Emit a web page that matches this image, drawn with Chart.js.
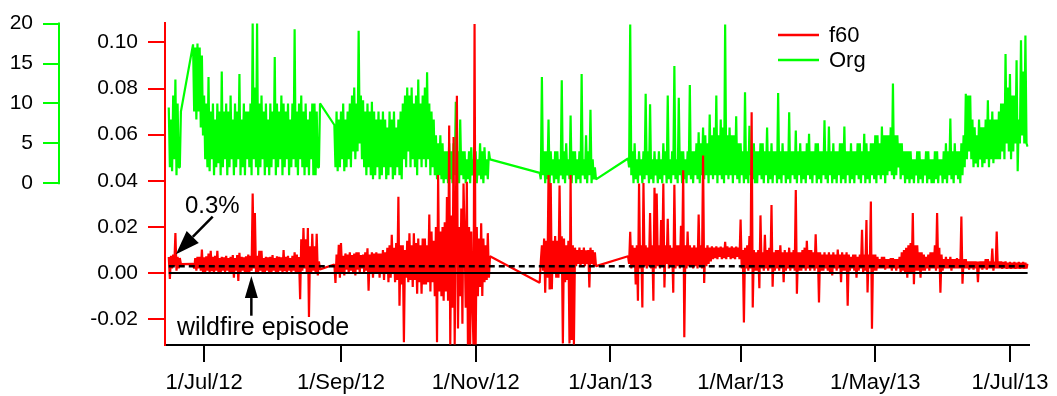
<!DOCTYPE html>
<html>
<head>
<meta charset="utf-8">
<title>f60 / Org</title>
<script src="https://cdn.jsdelivr.net/npm/chart.js@4.4.1/dist/chart.umd.min.js"></script>
<style>
  html, body { margin:0; padding:0; background:#fff; }
  #wrap { width:1057px; height:396px; }
</style>
</head>
<body>
<div id="wrap"><canvas id="chart" width="1057" height="396"></canvas></div>
<script>
// Two readings per day: *00 at midnight, *12 at noon.
// Days counted from 1 Jul 2012, first entry of every row list is day -20.
// null = instrument offline (the trace is bridged across).
const firstDay = -20;

const org00 = [
  null, null, null, null, 9.5, 8, 11, 13, 10, 2,          // -20
  null, null, null, null, null, 17.4, 17, 17.5, 17, 16,   // -10
  11, 10, 13.3, 9, 10, 8, 10, 9, 14, 9,                   // 0
  10, 9, 11, 8, 10, 9, 13.7, 8, 10, 9,                    // 10
  9, 10, 20, 12, 20, 10, 11, 9, 10, 8,                    // 20
  10, 9, 15.8, 10, 9, 11, 10, 9, 10, 8,                   // 30
  10, 19.3, 9, 10, 11, 9, 10, 8, 9, 10,                   // 40
  10, 9, 2, null, null, null, null, null, null, 7.3,      // 50
  9, 8, 9, 10, 8, 9, 10, 11, 12, 10,                      // 60
  19.1, 11, 10.4, 9, 10, 9, 10.2, 9, 8, 9,                // 70
  8, 9, 8, 7, 9, 8, 9, 7, 8, 9,                           // 80
  10, 11, 12, 11, 12, 10, 11, 13, 10, 11,                 // 90
  12, 13.9, 10, 9, 8, 6, 5, 6, 5, 4,                      // 100
  4, 5, 4, 5, 10.2, 4, 8, 4, 4, 3,                        // 110
  4, 4.5, 3, 4, 3, 5, 4, 4.5, 3, 4,                       // 120
  null, null, null, null, null, null, null, null, null, null, // 130
  null, null, null, null, null, null, null, null, null, null, // 140
  null, null, 1.3, 13.3, 4, 4, 8, 4, 3, 4,                // 150
  4, 3, 12.9, 4, 5, 3, 8.5, 4, 4, 3,                      // 160
  4, 13.7, 3, 6, 4, 9.2, 3, 2, null, null,                // 170
  null, null, null, null, null, null, null, null, null, null, // 180
  null, null, 3.1, 19.9, 4, 5, 3, 4, 3, 4,                // 190
  11.2, 4, 9.9, 3, 4, 3, 4, 3, 5, 4,                      // 200
  11, 3, 4, 14.7, 3, 10.7, 4, 4, 3, 4,                    // 210
  12.3, 4, 4, 5, 6.4, 5, 7, 6, 5, 8.6,                    // 220
  6, 7, 11, 6, 8, 7, 19.9, 6, 7, 6,                       // 230
  6, 8.4, 5, 5, 4, 11.4, 4, 7.2, 4, 5,                    // 240
  4, 4, 5, 5, 4, 7, 4, 5, 4, 4,                           // 250
  11.3, 4, 5, 4, 4, 8.9, 4, 4, 6.6, 4,                    // 260
  5, 4, 4, 5, 6.2, 4, 4, 5, 5, 4,                         // 270
  4, 7.9, 4, 7.1, 4, 5, 4, 4, 5, 5,                       // 280
  7.1, 4, 4, 5, 4, 4, 5, 5, 4, 6.2,                       // 290
  5, 4, 5, 5, 6, 6, 5, 7.1, 6, 6,                         // 300
  6, 7, 12.5, 6, 6, 5, 5, 4, 4, 4,                        // 310
  4, 3, 3, 4, 4, 3, 3, 4, 4, 3,                           // 320
  3, 4, 4, 3, 3, 4, 5, 4, 8.1, 4,                         // 330
  5, 4, 4, 5, 6, 11.2, 11, 11, 8, 7,                      // 340
  6, 8, 7, 7, 8, 10.4, 8, 9, 8, 8,                        // 350
  9, 10, 10, 16.2, 12, 13.7, 11, 11, 15.4, 8,             // 360
  17.9, 14, 18.5, 4.6                                     // 370
];

const org12 = [
  null, null, null, null, 2, 1.5, 3, 1, 2, 9,             // -20
  null, null, null, null, null, 9, 8, 9, 7, 6,            // -10
  3, 2, 1.5, 3, 1, 2, 2.5, 1, 2, 3,                       // 0
  1, 2, 3, 1, 2, 3, 1, 2, 1, 3,                           // 10
  2, 1, 3, 2, 1, 2, 3, 1, 2, 1,                           // 20
  2, 3, 1, 2, 3, 1, 2, 3, 1, 2,                           // 30
  3, 2, 1, 3, 2, 1, 2, 1, 3, 1,                           // 40
  1, 2, 10, null, null, null, null, null, null, 2,        // 50
  1.5, 2, 3, 1.5, 2, 3, 2, 4, 3, 4,                       // 60
  5, 3, 2, 1, 2, 1, 0.5, 1, 2, 0.5,                       // 70
  1, 2, 0.5, 1, 2, 0.5, 1, 2, 1, 0.5,                     // 80
  3, 2, 4, 2, 3, 2, 1, 3, 2, 3,                           // 90
  2, 3, 1, 2, 1, 0.5, 1, 0.5, 0, 0.5,                     // 100
  0, 0.5, 0, 1, 0.5, 0, 1, 0.5, 0, 0.5,                   // 110
  0, 1, 0.5, 0, 1, 0.5, 0, 1, 0.5, 3,                     // 120
  null, null, null, null, null, null, null, null, null, null, // 130
  null, null, null, null, null, null, null, null, null, null, // 140
  null, null, 0.5, 1, 0, 0.5, 0, 1, 0, 0.5,               // 150
  0, 1, 0.5, 0, 1, 0.5, 0, 1, 0, 0.5,                     // 160
  0, 1, 0.5, 0, 1, 0, 0.5, 0.5, null, null,               // 170
  null, null, null, null, null, null, null, null, null, null, // 180
  null, null, 2, 1, 0, 0.5, 0, 1, 0, 0.5,                 // 190
  1, 0, 0.5, 0, 1, 0, 0.5, 0, 1, 0,                       // 200
  0.5, 0, 1, 0.5, 0, 1, 0, 0.5, 0, 1,                     // 210
  0.5, 0, 1, 0.5, 0, 1, 0.5, 1, 0, 1,                     // 220
  0.5, 1, 0, 1, 0.5, 0, 1, 0.5, 1, 0,                     // 230
  1, 0.5, 0, 1, 0, 0.5, 0, 1, 0.5, 0,                     // 240
  0, 1, 0.5, 0, 1, 0, 0.5, 0, 1, 0,                       // 250
  0.5, 0, 1, 0, 0.5, 0, 1, 0.5, 0, 1,                     // 260
  0, 0.5, 0, 1, 0.5, 0, 1, 0, 0.5, 0,                     // 270
  1, 0.5, 0, 1, 0, 0.5, 0, 1, 0, 0.5,                     // 280
  0, 1, 0, 0.5, 0, 1, 0.5, 0, 1, 0,                       // 290
  0.5, 0, 1, 0.5, 0, 1, 0.5, 1, 0, 1,                     // 300
  1.5, 1, 0.5, 1, 2, 0.5, 1, 0, 0.5, 0,                   // 310
  0.5, 0, 1, 0, 0.5, 0, 1, 0, 0.5, 0,                     // 320
  0, 0.5, 0, 1, 0, 0.5, 0, 1, 0.5, 0,                     // 330
  1, 0.5, 0, 1, 2, 3, 4, 3, 2, 2.5,                       // 340
  2, 3, 2, 2.5, 3, 2, 3, 2.5, 3, 3,                       // 350
  3, 4, 3, 5, 4, 3, 4, 5, 1.5, 5,                         // 360
  6, 5, 5                                                 // 370
];

const f6000 = [
  null, null, null, null, 0.007, 0.0075, 0.008, 0.0173, 0.007, 0.0065,          // -20
  null, null, null, null, null, 0.004, 0.0065, 0.007, 0.007, 0.0102,            // -10
  0.0068, 0.0072, 0.0085, 0.0096, 0.007, 0.0075, 0.0096, 0.0065, 0.007, 0.0068,  // 0
  0.0075, 0.0065, 0.007, 0.0078, 0.0065, 0.0078, 0.0088, 0.007, 0.0068, 0.0072,  // 10
  0.008, 0.0075, 0.0345, 0.026, 0.0075, 0.0096, 0.0096, 0.0065, 0.007, 0.0068,   // 20
  0.007, 0.0078, 0.0065, 0.0072, 0.007, 0.0068, 0.01, 0.007, 0.0075, 0.0065,     // 30
  0.0075, 0.009, 0.008, 0.007, 0.0146, 0.0195, 0.0146, 0.0195, 0.0116, 0.017,    // 40
  0.0116, 0.017, 0.005, null, null, null, null, null, null, 0.0037,             // 50
  0.008, 0.0123, 0.013, 0.0075, 0.0085, 0.008, 0.009, 0.0078, 0.0085, 0.009,     // 60
  0.009, 0.0078, 0.008, 0.009, 0.0107, 0.008, 0.009, 0.0085, 0.009, 0.0085,      // 70
  0.0085, 0.01, 0.009, 0.011, 0.012, 0.0166, 0.011, 0.013, 0.0331, 0.012,        // 80
  0.012, 0.01, 0.014, 0.0173, 0.012, 0.0173, 0.013, 0.015, 0.012, 0.015,         // 90
  0.015, 0.012, 0.0254, 0.018, 0.014, 0.02, 0.0425, 0.018, 0.02, 0.022,          // 100
  0.033, 0.064, 0.025, 0.059, 0.02, -0.024, -0.01, -0.022, 0.015, 0.0396,        // 110
  0.02, 0.018, -0.031, -0.031, -0.01, -0.006, -0.0099, -0.004, -0.003, -0.002,   // 120
  null, null, null, null, null, null, null, null, null, null,                   // 130
  null, null, null, null, null, null, null, null, null, null,                   // 140
  null, null, -0.0042, 0.012, 0.015, 0.014, 0.0425, 0.039, 0.014, 0.016,        // 150
  0.014, 0.038, 0.016, 0.015, 0.012, 0.014, 0.0425, 0.012, 0.011, 0.01,          // 160
  0.011, 0.01, 0.011, 0.0099, 0.01, 0.011, 0.01, 0.009, null, null,             // 170
  null, null, null, null, null, null, null, null, null, null,                   // 180
  null, null, 0.0073, 0.0179, 0.012, 0.011, 0.012, 0.0388, 0.012, 0.039,        // 190
  0.012, 0.011, 0.026, 0.012, 0.037, 0.0345, 0.012, 0.023, 0.0388, 0.012,        // 200
  0.0235, 0.012, 0.011, 0.0383, 0.012, 0.012, 0.0205, 0.0446, 0.012, 0.018,      // 210
  0.012, 0.011, 0.012, 0.011, 0.0254, 0.012, 0.051, 0.011, 0.012, 0.011,         // 220
  0.0116, 0.011, 0.0116, 0.011, 0.0115, 0.011, 0.0135, 0.0116, 0.011, 0.0116,    // 230
  0.011, 0.0115, 0.011, 0.0232, 0.01, 0.011, 0.012, 0.016, 0.0697, 0.01,         // 240
  0.009, 0.01, 0.025, 0.009, 0.0166, 0.01, 0.011, 0.0295, 0.009, 0.01,           // 250
  0.01, 0.012, 0.009, 0.01, 0.009, 0.011, 0.009, 0.01, 0.036, 0.009,             // 260
  0.009, 0.01, 0.011, 0.014, 0.01, 0.01, 0.009, 0.0168, 0.009, 0.009,            // 270
  0.008, 0.009, 0.008, 0.009, 0.008, 0.009, 0.008, 0.0102, 0.008, 0.009,         // 280
  0.008, 0.009, 0.008, 0.007, 0.008, 0.008, 0.007, 0.008, 0.0188, 0.008,         // 290
  0.023, 0.008, 0.031, 0.008, 0.008, 0.007, 0.006, 0.007, 0.007, 0.006,          // 300
  0.006, 0.0065, 0.0065, 0.006, 0.006, 0.007, 0.009, 0.01, 0.011, 0.012,         // 310
  0.013, 0.026, 0.012, 0.012, 0.009, 0.009, 0.008, 0.007, 0.008, 0.009,          // 320
  0.009, 0.012, 0.026, 0.011, 0.008, 0.006, 0.007, 0.006, 0.007, 0.006,          // 330
  0.006, 0.0065, 0.006, 0.0245, 0.006, 0.006, 0.005, 0.005, 0.005, 0.005,        // 340
  0.005, 0.005, 0.005, 0.005, 0.006, 0.006, 0.005, 0.0106, 0.005, 0.018,         // 350
  0.005, 0.005, 0.0048, 0.005, 0.0045, 0.0048, 0.0045, 0.0048, 0.0045, 0.0048,   // 360
  0.0045, 0.0048, 0.0045, 0.004                                                  // 370
];

const f6012 = [
  null, null, null, null, -0.0026, 0.002, 0.003, 0.001, 0.002, 0.0039,           // -20
  null, null, null, null, null, 0.002, 0.001, 0.002, 0.001, 0.0005,             // -10
  0.0005, 0.001, 0.0003, 0.0008, 0.0002, 0.001, 0.0005, 0.0, 0.001, 0.0005,      // 0
  0.001, 0.0005, 0.0, -0.002, 0.001, -0.0034, 0.0005, 0.001, 0.0, 0.0005,        // 10
  0.0005, 0.001, 0.002, 0.0, 0.0005, 0.001, 0.0005, 0.0, 0.001, 0.0005,          // 20
  0.0002, 0.001, 0.0005, 0.0, 0.001, 0.0005, 0.0008, 0.0, 0.001, 0.0005,         // 30
  0.001, 0.0005, 0.0, -0.0113, 0.001, 0.002, 0.0, -0.019, 0.0, 0.001,            // 40
  0.0, -0.001, 0.0016, null, null, null, null, null, null, -0.0043,             // 50
  0.0, -0.002, 0.0005, -0.001, 0.0015, 0.0, 0.001, 0.0005, -0.001, 0.0015,       // 60
  0.0, 0.002, 0.0005, 0.001, -0.0077, 0.0005, -0.002, 0.0, 0.0005, -0.002,       // 70
  0.0005, -0.003, 0.0, -0.004, -0.002, 0.0, -0.004, -0.003, -0.0142, -0.005,     // 80
  -0.03, -0.002, -0.004, -0.003, -0.006, -0.003, -0.009, -0.004, -0.009, -0.005, // 90
  -0.005, -0.004, -0.008, -0.004, -0.01, -0.03, -0.008, -0.01, -0.012, -0.008,   // 100
  -0.012, -0.031, -0.015, -0.031, 0.0769, 0.02, 0.028, 0.0388, -0.015, -0.031,   // 110
  -0.031, -0.012, 0.108, 0.02, 0.015, 0.0216, 0.015, 0.012, 0.0173, 0.0073,      // 120
  null, null, null, null, null, null, null, null, null, null,                   // 130
  null, null, null, null, null, null, null, null, null, null,                   // 140
  null, null, 0.005, 0.001, -0.0085, -0.002, -0.0071, -0.007, 0.0, -0.002,      // 150
  -0.002, 0.0, -0.0305, -0.004, -0.003, -0.0305, -0.029, -0.031, 0.003, 0.004,  // 160
  0.003, 0.004, 0.003, 0.004, -0.0063, 0.004, 0.003, 0.003, null, null,         // 170
  null, null, null, null, null, null, null, null, null, null,                   // 180
  null, null, 0.004, 0.002, 0.003, -0.005, -0.012, 0.002, -0.0149, 0.003,       // 190
  0.002, 0.003, 0.002, -0.012, 0.002, 0.003, 0.002, 0.003, -0.0063, 0.004,       // 200
  0.002, 0.003, -0.0085, 0.002, 0.003, 0.002, 0.003, -0.0278, 0.002, 0.003,      // 210
  0.003, 0.002, 0.003, 0.002, 0.003, 0.002, -0.0043, 0.003, 0.004, 0.005,        // 220
  0.006, 0.0065, 0.006, 0.007, 0.006, 0.0065, 0.006, 0.007, 0.006, 0.0065,       // 230
  0.006, 0.007, 0.006, 0.002, -0.0214, 0.002, 0.001, 0.002, -0.0149, 0.001,      // 240
  0.001, -0.0066, 0.002, 0.001, 0.002, 0.001, 0.002, -0.0059, 0.001, 0.002,      // 250
  0.001, 0.002, -0.004, 0.001, 0.002, 0.001, 0.002, 0.001, -0.009, 0.001,        // 260
  0.001, 0.002, 0.001, 0.002, 0.001, 0.002, 0.001, 0.002, -0.0128, 0.001,        // 270
  0.001, 0.002, 0.001, 0.0, -0.001, 0.002, 0.001, 0.002, -0.004, 0.001,          // 280
  0.001, -0.0142, 0.001, 0.002, 0.001, -0.002, 0.001, 0.002, 0.0, 0.001,         // 290
  -0.0084, 0.002, -0.0242, 0.001, 0.001, 0.002, 0.002, 0.002, 0.0015, 0.002,     // 300
  0.002, 0.001, 0.002, 0.001, 0.002, 0.0, 0.001, 0.0, -0.002, 0.0,               // 310
  0.0, -0.0048, 0.001, 0.001, -0.002, 0.001, 0.001, 0.002, 0.001, 0.002,         // 320
  0.002, 0.001, 0.002, -0.0085, 0.001, 0.002, 0.002, 0.002, 0.001, 0.002,        // 330
  0.002, 0.002, 0.002, -0.0046, 0.002, 0.002, 0.0015, 0.002, 0.0015, 0.002,      // 340
  -0.004, 0.002, 0.0015, 0.002, 0.0015, 0.002, 0.002, 0.001, 0.002, 0.002,       // 350
  0.002, 0.0018, 0.002, 0.0018, 0.002, 0.0018, 0.002, 0.0018, 0.002, 0.0018,     // 360
  0.002, 0.0018, 0.002                                                           // 370
];

const tickDays   = [0, 62, 123, 184, 243, 304, 365];
const tickLabels = ['1/Jul/12', '1/Sep/12', '1/Nov/12', '1/Jan/13', '1/Mar/13', '1/May/13', '1/Jul/13'];
const f60Ticks   = [-0.02, 0, 0.02, 0.04, 0.06, 0.08, 0.10];
const orgTicks   = [0, 5, 10, 15, 20];

const refSpan   = [-16, 373];   // extent of the two horizontal reference lines
const refLevel  = 0.003;        // 0.3 %

const FONT = '"Liberation Sans", Arial, Helvetica, sans-serif';

// interleave midnight / noon readings into one time-ordered trace
function toPoints(at00, at12) {
  const pts = [];
  at00.forEach((v, i) => {
    pts.push({ x: firstDay + i, y: v });
    pts.push({ x: firstDay + i + 0.5, y: at12[i] ?? null });
  });
  return pts;
}

// ── annotations: arrows + text, placed in data units ────────────────────
function drawArrow(ctx, x1, y1, x2, y2, headLen, headW) {
  const a = Math.atan2(y2 - y1, x2 - x1);
  const bx = x2 - headLen * Math.cos(a), by = y2 - headLen * Math.sin(a);
  ctx.beginPath();
  ctx.moveTo(x1, y1);
  ctx.lineTo(bx, by);
  ctx.stroke();
  ctx.beginPath();
  ctx.moveTo(x2, y2);
  ctx.lineTo(bx + headW / 2 * Math.sin(a), by - headW / 2 * Math.cos(a));
  ctx.lineTo(bx - headW / 2 * Math.sin(a), by + headW / 2 * Math.cos(a));
  ctx.closePath();
  ctx.fill();
}

const notesPlugin = {
  id: 'notes',
  afterDatasetsDraw(chart) {
    const { ctx, scales: { x, y } } = chart;
    ctx.save();
    ctx.strokeStyle = '#000';
    ctx.fillStyle = '#000';
    ctx.lineWidth = 2.5;
    // 0.3% label
    drawArrow(ctx, x.getPixelForValue(3.9), y.getPixelForValue(0.0245),
                   x.getPixelForValue(-12.75), y.getPixelForValue(0.0082), 24, 17);
    ctx.font = '24px ' + FONT;
    ctx.textAlign = 'left';
    ctx.textBaseline = 'middle';
    ctx.fillText('0.3%', x.getPixelForValue(-8.7), y.getPixelForValue(0.0288));
    // wildfire label
    drawArrow(ctx, x.getPixelForValue(21.4), y.getPixelForValue(-0.0185),
                   x.getPixelForValue(21.4), y.getPixelForValue(-0.0013), 22, 13);
    ctx.font = '25px ' + FONT;
    ctx.fillText('wildfire episode', x.getPixelForValue(-12.3), y.getPixelForValue(-0.0237));
    ctx.restore();
  },
  afterDraw(chart) {
    const { ctx } = chart;
    ctx.save();
    // Org axis spine only spans 0..20
    const g = chart.scales.yOrg;
    ctx.strokeStyle = '#00ff00';
    ctx.lineWidth = 2;
    ctx.beginPath();
    ctx.moveTo(g.right - 1, g.getPixelForValue(orgTicks[orgTicks.length - 1]) - 1);
    ctx.lineTo(g.right - 1, g.getPixelForValue(orgTicks[0]) + 1);
    ctx.stroke();
    // legend
    ctx.font = '22px ' + FONT;
    ctx.textAlign = 'left';
    ctx.textBaseline = 'middle';
    const items = [['f60', '#ff0000', 35], ['Org', '#00ff00', 60]];
    items.forEach(([label, color, ly]) => {
      ctx.strokeStyle = color;
      ctx.lineWidth = 2.5;
      ctx.beginPath();
      ctx.moveTo(778, ly);
      ctx.lineTo(819, ly);
      ctx.stroke();
      ctx.fillStyle = '#000';
      ctx.fillText(label, 829, ly + 1);
    });
    ctx.restore();
  }
};

const lineDefaults = { pointRadius: 0, borderWidth: 2.2, tension: 0, spanGaps: true, borderJoinStyle: 'bevel' };

new Chart(document.getElementById('chart'), {
  type: 'line',
  data: {
    datasets: [
      { ...lineDefaults, label: 'zero', yAxisID: 'y', borderColor: '#000', borderWidth: 2,
        data: [{ x: refSpan[0], y: 0 }, { x: refSpan[1], y: 0 }] },
      { ...lineDefaults, label: '0.3%', yAxisID: 'y', borderColor: '#000', borderWidth: 2.5, borderDash: [6, 4],
        data: [{ x: refSpan[0], y: refLevel }, { x: refSpan[1], y: refLevel }] },
      { ...lineDefaults, label: 'f60', yAxisID: 'y', borderColor: '#ff0000', data: toPoints(f6000, f6012) },
      { ...lineDefaults, label: 'Org', yAxisID: 'yOrg', borderColor: '#00ff00', data: toPoints(org00, org12) },
    ],
  },
  options: {
    responsive: false,
    animation: false,
    events: [],
    layout: { padding: { top: 20, right: 24, left: 0, bottom: 0 } },
    plugins: { legend: { display: false }, tooltip: { enabled: false } },
    scales: {
      x: {
        type: 'linear', position: 'bottom', min: -17.71, max: 373.46,
        afterBuildTicks: s => { s.ticks = tickDays.map(v => ({ value: v })); },
        afterFit: s => { s.height = 51; },
        ticks: {
          color: '#000', font: { family: FONT, size: 22 }, padding: 8, maxRotation: 0,
          callback: v => tickLabels[tickDays.indexOf(v)],
        },
        grid: { drawOnChartArea: false, drawTicks: true, tickLength: 17, color: '#000', lineWidth: 2 },
        border: { display: true, color: '#000', width: 2 },
      },
      y: {
        type: 'linear', position: 'left', weight: 0, min: -0.0312, max: 0.1086,
        afterBuildTicks: s => { s.ticks = f60Ticks.map(v => ({ value: v })); },
        afterFit: s => { s.width = 105; },
        ticks: { color: '#000', font: { family: FONT, size: 21 }, padding: 10,
                 callback: v => v.toFixed(2) },
        grid: { drawOnChartArea: false, drawTicks: true, tickLength: 17, color: '#ff0000', lineWidth: 2 },
        border: { display: true, color: '#ff0000', width: 2 },
      },
      yOrg: {
        type: 'linear', position: 'left', weight: 1, min: -20.249, max: 20.124,
        afterBuildTicks: s => { s.ticks = orgTicks.map(v => ({ value: v })); },
        afterFit: s => { s.width = 60; },
        ticks: { color: '#000', font: { family: FONT, size: 21 }, padding: 10,
                 callback: v => String(v) },
        grid: { drawOnChartArea: false, drawTicks: true, tickLength: 17, color: '#00ff00', lineWidth: 2 },
        border: { display: false },
      },
    },
  },
  plugins: [notesPlugin],
});
</script>
</body>
</html>
